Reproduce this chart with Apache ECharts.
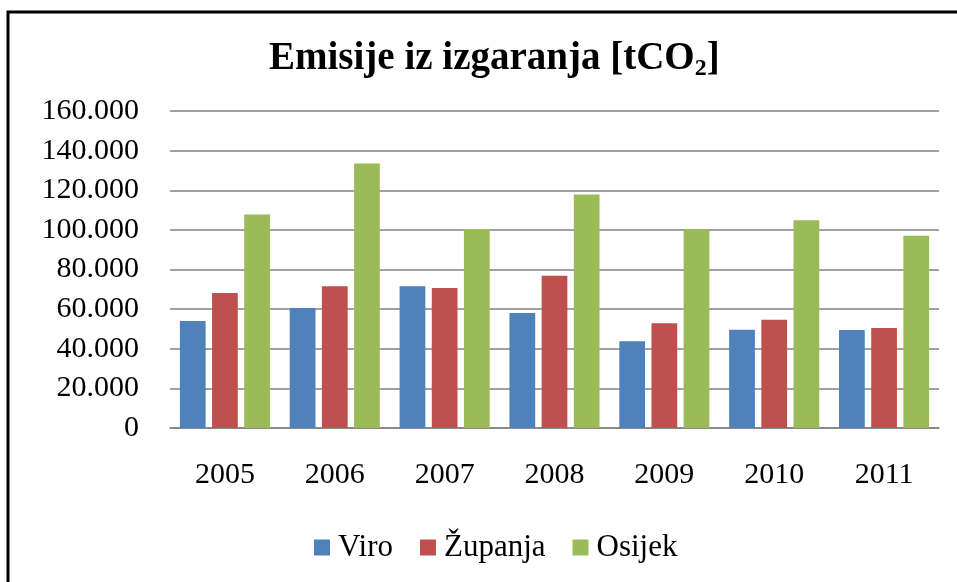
<!DOCTYPE html>
<html><head><meta charset="utf-8">
<script src="https://cdn.jsdelivr.net/npm/echarts@6/dist/echarts.min.js"></script>
<style>html,body{margin:0;padding:0;background:#fff}#c{width:957px;height:582px}</style>
</head><body><div id="c"></div>
<script>
const years = ['2005','2006','2007','2008','2009','2010','2011'];
const viro = [54000, 60600, 71500, 58000, 43800, 49600, 49500];
const zupanja = [68200, 71500, 70700, 76800, 52900, 54600, 50500];
const osijek = [107800, 133500, 100500, 117900, 100300, 104900, 97000];
const seriesNames = ['Viro', 'Županja', 'Osijek'];
const colors = ['#4F81BD', '#C0504D', '#9BBB59'];

const font = "'Liberation Serif', 'Times New Roman', serif";
const chart = echarts.init(document.getElementById('c'));
const fmt = v => v === 0 ? '0' : String(v).replace(/\B(?=(\d{3})+(?!\d))/g, '.');
chart.setOption({
  animation: false,
  textStyle: { fontFamily: font },
  title: {
    text: '{a|Emisije iz izgaranja [tCO}{s|2}{a|]}',
    left: 264, top: 33,
    textStyle: {
      rich: {
        a: { fontFamily: font, fontWeight: 'bold', fontSize: 39, color: '#000', lineHeight: 42 },
        s: { fontFamily: font, fontWeight: 'bold', fontSize: 24, color: '#000', padding: [20, 0, 0, 0], lineHeight: 42 }
      }
    }
  },
  graphic: [{
    type: 'rect', shape: { x: 8, y: 12, width: 1000, height: 1000 },
    style: { fill: 'none', stroke: '#000', lineWidth: 3 }, silent: true
  }],
  legend: {
    bottom: 14, left: 309,
    itemWidth: 16, itemHeight: 16, itemGap: 27,
    icon: 'rect',
    textStyle: { fontFamily: font, fontSize: 31, color: '#000', padding: [0, 0, 0, 3] },
    data: seriesNames
  },
  grid: { left: 170, right: 18, top: 111, bottom: 154 },
  xAxis: {
    type: 'category', data: years,
    axisLine: { lineStyle: { color: '#828282', width: 1.5 } },
    axisTick: { show: false },
    axisLabel: { fontFamily: font, fontSize: 30, color: '#000', margin: 32 }
  },
  yAxis: {
    type: 'value', min: 0, max: 160000, interval: 20000,
    axisLine: { show: false }, axisTick: { show: false },
    splitLine: { lineStyle: { color: '#828282', width: 1.5 } },
    axisLabel: { fontFamily: font, fontSize: 30, color: '#000', margin: 31, formatter: fmt }
  },
  series: [viro, zupanja, osijek].map((d, i) => ({
    name: seriesNames[i], type: 'bar', data: d,
    barGap: '25%', barCategoryGap: '18%',
    itemStyle: { color: colors[i] }
  }))
});
</script></body></html>
